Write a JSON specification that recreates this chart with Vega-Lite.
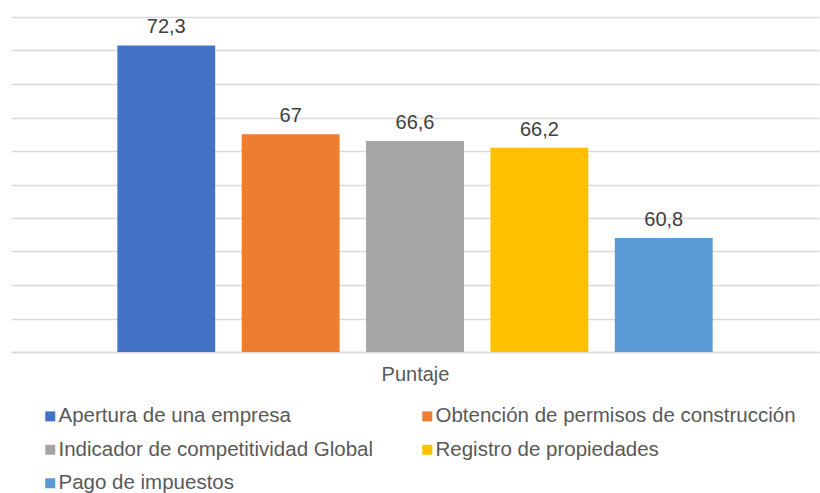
{
  "$schema": "https://vega.github.io/schema/vega-lite/v6.json",
  "width": 808,
  "height": 335,
  "autosize": {"type": "none"},
  "padding": {"left": 11, "top": 17, "right": 1, "bottom": 141},
  "background": "white",
  "data": {
    "values": [
      {"serie": "Apertura de una empresa", "puntaje": 72.3},
      {"serie": "Obtención de permisos de construcción", "puntaje": 67},
      {"serie": "Indicador de competitividad Global", "puntaje": 66.6},
      {"serie": "Registro de propiedades", "puntaje": 66.2},
      {"serie": "Pago de impuestos", "puntaje": 60.8}
    ]
  },
  "encoding": {
    "x": {
      "field": "serie",
      "type": "nominal",
      "sort": null,
      "scale": {"paddingInner": 0.213, "paddingOuter": 0.855},
      "axis": {
        "labels": false,
        "ticks": false,
        "title": "Puntaje",
        "titleFont": "Liberation Sans",
        "titleFontSize": 20,
        "titleFontWeight": "normal",
        "titleColor": "#595959",
        "titlePadding": 12,
        "domainColor": "#d9d9d9",
        "domainWidth": 1.5
      }
    },
    "y": {
      "field": "puntaje",
      "type": "quantitative",
      "scale": {"domain": [54, 74], "zero": false, "nice": false},
      "axis": {
        "values": [54, 56, 58, 60, 62, 64, 66, 68, 70, 72, 74],
        "labels": false,
        "ticks": false,
        "domain": false,
        "title": null,
        "grid": true,
        "gridColor": "#d9d9d9",
        "gridWidth": 1.5
      }
    }
  },
  "layer": [
    {
      "mark": {"type": "bar", "clip": true},
      "encoding": {
        "color": {
          "field": "serie",
          "type": "nominal",
          "scale": {
            "domain": [
              "Apertura de una empresa",
              "Indicador de competitividad Global",
              "Pago de impuestos",
              "Obtención de permisos de construcción",
              "Registro de propiedades"
            ],
            "range": ["#4472C4", "#A5A5A5", "#5B9BD5", "#ED7D31", "#FFC000"]
          },
          "legend": {
            "orient": "none",
            "legendX": 29,
            "legendY": 389,
            "columns": 2,
            "padding": 0,
            "title": null,
            "symbolType": "square",
            "symbolSize": 100,
            "symbolStrokeWidth": 0,
            "labelFont": "Liberation Sans",
            "labelFontSize": 20.5,
            "labelColor": "#595959",
            "labelLimit": 500,
            "labelOffset": -2,
            "rowPadding": 12.5,
            "columnPadding": 43
          }
        }
      }
    },
    {
      "mark": {
        "type": "text",
        "dy": -12,
        "baseline": "alphabetic",
        "font": "Liberation Sans",
        "fontSize": 20,
        "color": "#404040"
      },
      "encoding": {
        "text": {"field": "puntaje", "type": "quantitative", "format": ".1~f"}
      }
    }
  ],
  "config": {
    "view": {"stroke": null},
    "locale": {
      "number": {
        "decimal": ",",
        "thousands": ".",
        "grouping": [3],
        "currency": ["", " €"]
      }
    }
  }
}
